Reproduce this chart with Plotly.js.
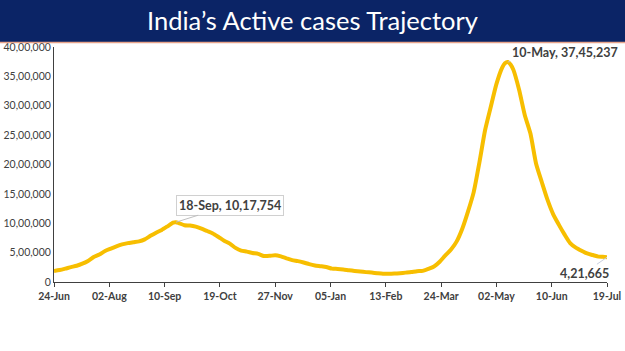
<!DOCTYPE html>
<html>
<head>
<meta charset="utf-8">
<script src="https://cdn.plot.ly/plotly-3.0.1.min.js"></script>
<style>html,body{margin:0;padding:0;background:#fff;}#chart{width:625px;height:351px;}</style>
</head>
<body>
<div id="chart"></div>
<script>
const dates = [
"2020-06-24","2020-06-28","2020-07-02","2020-07-06","2020-07-10","2020-07-14","2020-07-18","2020-07-22","2020-07-26","2020-07-30",
"2020-08-03","2020-08-07","2020-08-11","2020-08-15","2020-08-19","2020-08-23","2020-08-27","2020-08-31","2020-09-04","2020-09-08",
"2020-09-12","2020-09-16","2020-09-18","2020-09-20","2020-09-24","2020-09-28","2020-10-02","2020-10-06","2020-10-10","2020-10-14",
"2020-10-18","2020-10-22","2020-10-26","2020-10-30","2020-11-03","2020-11-07","2020-11-11","2020-11-15","2020-11-19","2020-11-23",
"2020-11-27","2020-12-01","2020-12-05","2020-12-09","2020-12-13","2020-12-17","2020-12-21","2020-12-25","2020-12-29","2021-01-02",
"2021-01-06","2021-01-10","2021-01-14","2021-01-18","2021-01-22","2021-01-26","2021-01-30","2021-02-03","2021-02-07","2021-02-11",
"2021-02-15","2021-02-19","2021-02-23","2021-02-27","2021-03-03","2021-03-07","2021-03-11","2021-03-15","2021-03-19","2021-03-23",
"2021-03-27","2021-03-31","2021-04-04","2021-04-08","2021-04-12","2021-04-16","2021-04-20","2021-04-24","2021-04-28","2021-05-02",
"2021-05-06","2021-05-08","2021-05-10","2021-05-12","2021-05-14","2021-05-18","2021-05-22","2021-05-26","2021-05-30","2021-06-03",
"2021-06-07","2021-06-11","2021-06-15","2021-06-19","2021-06-23","2021-06-27","2021-07-01","2021-07-05","2021-07-09","2021-07-13",
"2021-07-16","2021-07-19"];
const activeCases = [
186514,203051,226947,253287,276882,311565,358692,426167,467882,528242,
567730,607384,639929,661595,676900,692028,725991,785996,839627,886395,
947576,1009976,1017754,1003299,966382,961993,942217,907883,867496,826876,
766112,702064,653717,580075,533787,516632,494657,479216,443303,444746,
454940,435603,403248,372293,354904,331440,303639,281919,268581,254254,
227546,222526,213027,200528,188688,178257,168235,160057,149823,140319,
139542,143127,150055,159590,170126,184598,189226,223432,263624,345377,
452647,552566,691597,910319,1201009,1529653,2031977,2582947,2978709,3368147,
3645164,3723446,3745237,3704099,3610647,3273290,2843806,2527036,2013090,1701720,
1401609,1155759,976498,810016,662521,585394,532218,485350,458727,432041,
427862,421665];

const xTickVals = ["2020-06-24","2020-08-02","2020-09-10","2020-10-19","2020-11-27","2021-01-05","2021-02-13","2021-03-24","2021-05-02","2021-06-10","2021-07-19"];
const xTickText = ["24-Jun","02-Aug","10-Sep","19-Oct","27-Nov","05-Jan","13-Feb","24-Mar","02-May","10-Jun","19-Jul"];
const yTickVals = [0,500000,1000000,1500000,2000000,2500000,3000000,3500000,4000000];
const yTickText = ["0","5,00,000","10,00,000","15,00,000","20,00,000","25,00,000","30,00,000","35,00,000","40,00,000"];

const firstPeakDate = "2020-09-18", firstPeakValue = 1017754, firstPeakLabel = "18-Sep, 10,17,754";
const secondPeakDate = "2021-05-10", secondPeakValue = 3745237, secondPeakLabel = "10-May, 37,45,237";
const lastDate = "2021-07-19", lastValue = 421665, lastLabel = "4,21,665";

const trace = {
  x: dates, y: activeCases, type: "scatter", mode: "lines",
  line: {color: "#F7BE00", width: 4, shape: "spline", smoothing: 0.6},
  hoverinfo: "skip"
};

const annFont = {family: "Lato, 'Open Sans', sans-serif", size: 12.5, color: "#404040", weight: "bold"};

const layout = {
  width: 625, height: 351,
  margin: {l: 54, r: 18, t: 47, b: 69},
  paper_bgcolor: "#ffffff", plot_bgcolor: "#ffffff",
  showlegend: false,
  title: {
    text: "India’s Active cases Trajectory",
    font: {family: "Lato, 'Open Sans', sans-serif", size: 25.5, color: "#ffffff"},
    x: 0.5, xref: "container", xanchor: "center",
    y: 0.94, yref: "container", yanchor: "middle"
  },
  xaxis: {
    type: "date",
    range: ["2020-06-24", "2021-07-19"],
    tickvals: xTickVals, ticktext: xTickText,
    ticks: "outside", ticklen: 4, tickcolor: "#404040", tickwidth: 1,
    showline: true, linecolor: "#404040", linewidth: 1,
    showgrid: false, zeroline: false,
    tickfont: {family: "Lato, 'Open Sans', sans-serif", size: 10.5, color: "#404040", weight: "bold"}
  },
  yaxis: {
    range: [0, 4000000],
    tickvals: yTickVals, ticktext: yTickText,
    ticks: "", showline: true, linecolor: "#404040", linewidth: 1,
    showgrid: false, zeroline: false,
    tickfont: {family: "Lato, 'Open Sans', sans-serif", size: 10.5, color: "#404040"}
  },
  shapes: [
    {type: "rect", xref: "paper", yref: "paper", x0: -0.12, x1: 1.06, y0: 1.0213, y1: 1.22,
     fillcolor: "#0B2466", line: {width: 0}, layer: "below"},
    {type: "line", xref: "paper", yref: "paper", x0: -0.12, x1: 1.06, y0: 1.0195, y1: 1.0195,
     line: {color: "#E8A48A", width: 1.5}}
  ],
  annotations: [
    {x: firstPeakDate, y: firstPeakValue, text: firstPeakLabel, showarrow: true, arrowhead: 0,
     arrowcolor: "#bfbfbf", arrowwidth: 1, ax: 54, ay: -17, font: annFont,
     bgcolor: "#ffffff", bordercolor: "#d0d0d0", borderwidth: 1, borderpad: 2},
    {x: secondPeakDate, y: secondPeakValue, text: secondPeakLabel, showarrow: true, arrowhead: 0,
     arrowcolor: "#bfbfbf", arrowwidth: 1, ax: 57, ay: -9, font: annFont},
    {x: lastDate, y: lastValue, text: lastLabel, showarrow: true, arrowhead: 0,
     arrowcolor: "#c8cfe0", arrowwidth: 1, ax: -23, ay: 16, font: annFont},
    {xref: "paper", yref: "paper", x: 0, y: 0.99, text: " ", showarrow: true, arrowhead: 2,
     arrowsize: 0.8, arrowwidth: 1.2, arrowcolor: "#303030", ax: 0, ay: 9, standoff: 0}
  ]
};

Plotly.newPlot("chart", [trace], layout, {staticPlot: true, displayModeBar: false});
</script>
</body>
</html>
